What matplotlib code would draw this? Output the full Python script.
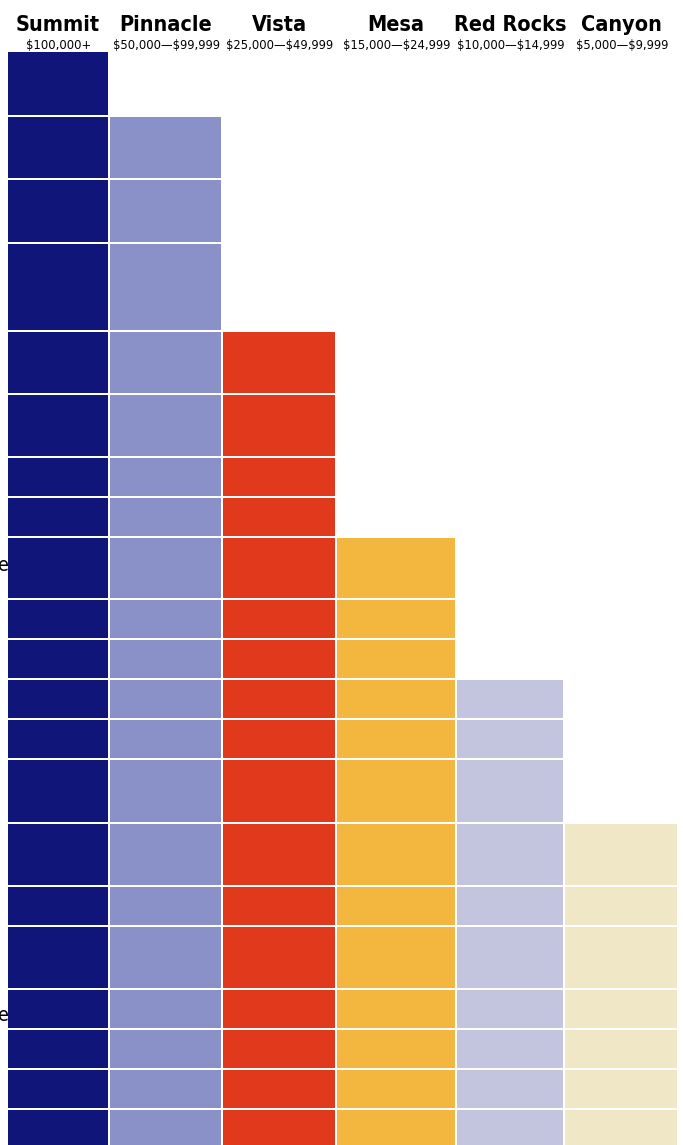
import numpy as np
from matplotlib import pyplot as plt
from matplotlib import font_manager

# tiers, left to right
tiers = ["Summit", "Pinnacle", "Vista", "Mesa", "Red Rocks", "Canyon"]
ranges = ["$100,000+", "$50,000\u2014$99,999", "$25,000\u2014$49,999",
          "$15,000\u2014$24,999", "$10,000\u2014$14,999", "$5,000\u2014$9,999"]
colors = ["#10157A", "#8A90C8", "#E0391C", "#F3B63E", "#C3C5DF", "#EFE7C5"]

# row pitch (cell height + gap), top to bottom
row_sizes = [65, 63, 64, 88, 63, 63, 40, 40, 62, 40, 40, 40,
             40, 64, 63, 40, 63, 40, 40, 40, 40]
# first row each tier appears in
first_row = [0, 1, 4, 8, 11, 14]

# column layout
col_left = [8, 110, 223, 337, 457, 565]
col_width = [100, 111, 112, 118, 106, 112]
gap = 2
top = 52

# find a narrow font if there is one
names = {(f.name, f.stretch) for f in font_manager.fontManager.ttflist}
if any(n == "Liberation Sans Narrow" for n, s in names):
  font = dict(family="Liberation Sans Narrow")
  scale = 1.1
elif ("DejaVu Sans", "condensed") in names or ("DejaVu Sans", "semi-condensed") in names:
  font = dict(family="DejaVu Sans", stretch="condensed")
  scale = 1.0
else:
  font = dict(family="DejaVu Sans")
  scale = 0.9

W, H = 683, 1145
fig = plt.figure(figsize=(W / 100, H / 100), dpi=100)
ax = fig.add_axes([0, 0, 1, 1])
ax.set_xlim(0, W)
ax.set_ylim(H, 0)
ax.axis("off")

row_tops = top + np.concatenate([[0], np.cumsum(row_sizes)[:-1]])

for i in range(len(tiers)):
  rows = range(first_row[i], len(row_sizes))
  bottoms = [row_tops[r] for r in rows]
  heights = [row_sizes[r] - gap for r in rows]
  ax.bar([col_left[i]] * len(bottoms), heights, width=col_width[i],
         bottom=bottoms, align="edge", color=colors[i], linewidth=0)

  cx = col_left[i] + col_width[i] / 2
  ax.text(cx, 31, tiers[i], ha="center", va="baseline", fontsize=15.5 * scale,
          fontweight="bold", parse_math=False, **font)
  ax.text(cx + 1, 49, ranges[i], ha="center", va="baseline",
          fontsize=9.3 * scale, parse_math=False, **font)

# clipped labels on the left edge
ax.text(-2, 571, "e", ha="left", va="baseline", fontsize=14, **font)
ax.text(-2, 1021, "e", ha="left", va="baseline", fontsize=14, **font)

fig.savefig("out.png", dpi=100)
